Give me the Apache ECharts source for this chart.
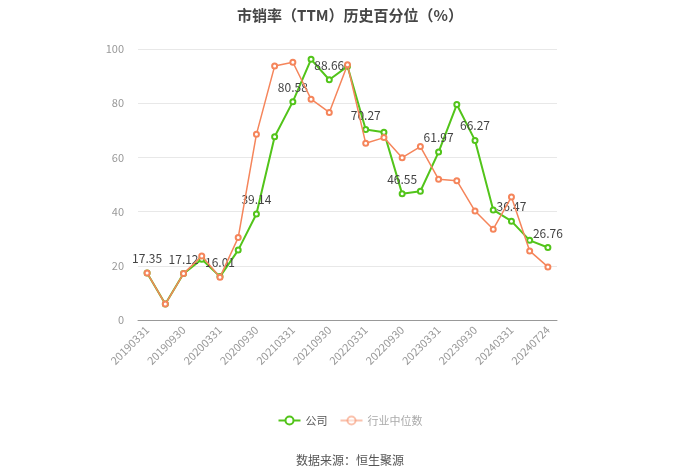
<!DOCTYPE html>
<html><head><meta charset="utf-8">
<script src="https://cdn.jsdelivr.net/npm/echarts@6/dist/echarts.min.js"></script>
<style>html,body{margin:0;padding:0;background:#fff}#c{width:700px;height:474px}</style>
</head><body><div id="c"></div>
<script>
var categories = ['20190331','20190630','20190930','20191231','20200331','20200630','20200930','20201231','20210331','20210630','20210930','20211231','20220331','20220630','20220930','20221231','20230331','20230630','20230930','20231231','20240331','20240630','20240724'];
var companyValues = [17.35,5.9,17.12,22.4,16.01,25.8,39.14,67.6,80.58,96.2,88.66,93.6,70.27,69.3,46.55,47.5,61.97,79.5,66.27,40.6,36.47,29.4,26.76];
var industryValues = [17.35,5.9,17.12,23.6,15.8,30.4,68.5,93.7,95.1,81.5,76.6,94.2,65.2,67.3,59.9,64.0,51.9,51.4,40.2,33.5,45.4,25.5,19.6];
var yTicks = [0,20,40,60,80,100];
var titleText = '市销率（TTM）历史百分位（%）';
var sourceText = '数据来源：恒生聚源';
var seriesNames = ['公司','行业中位数'];

var chart = echarts.init(document.getElementById('c'));
var font = '"Microsoft YaHei","Noto Sans CJK SC",sans-serif';
chart.setOption({
  animation: false,
  textStyle: {fontFamily: font},
  title: [{
    text: titleText, left: 'center', top: 3,
    textStyle: {fontSize: 15, fontWeight: 'bold', color: '#464646', fontFamily: font}
  }, {
    text: sourceText, left: 'center', top: 449,
    textStyle: {fontSize: 12, fontWeight: 'normal', color: '#555', fontFamily: font}
  }],
  legend: {
    top: 410, left: 'center', itemWidth: 22, itemHeight: 10, itemGap: 12,
    textStyle: {fontSize: 11, color: '#555'},
    data: [
      {name: seriesNames[0]},
      {name: seriesNames[1], textStyle: {color: '#aaa'}, itemStyle: {opacity: 0.5}, lineStyle: {opacity: 0.5}}
    ]
  },
  grid: {left: 138, right: 143, top: 49, bottom: 154},
  xAxis: {
    type: 'category', data: categories, boundaryGap: true,
    axisLine: {lineStyle: {color: '#999'}},
    axisTick: {alignWithLabel: true, interval: 1, lineStyle: {color: '#999'}},
    axisLabel: {interval: 1, rotate: 45, fontSize: 11, color: '#999', margin: 8}
  },
  yAxis: {
    type: 'value', min: yTicks[0], max: yTicks[yTicks.length-1], interval: 20,
    axisLine: {show: false}, axisTick: {show: false},
    axisLabel: {fontSize: 11, color: '#999', margin: 14},
    splitLine: {lineStyle: {color: '#e8e8e8'}}
  },
  series: [{
    name: seriesNames[0], type: 'line', data: companyValues,
    symbol: 'emptyCircle', symbolSize: 5,
    itemStyle: {color: '#52c41a'}, lineStyle: {color: '#52c41a', width: 2},
    label: {
      show: true, position: 'top', distance: 5, fontSize: 12, color: '#444',
      formatter: function (p) { return p.dataIndex % 2 === 0 ? p.value.toFixed(2) : ''; }
    },
    z: 2
  }, {
    name: seriesNames[1], type: 'line', data: industryValues,
    symbol: 'emptyCircle', symbolSize: 5,
    itemStyle: {color: '#f5855b'}, lineStyle: {color: '#f5855b', width: 1.5},
    z: 3
  }]
});
</script></body></html>
